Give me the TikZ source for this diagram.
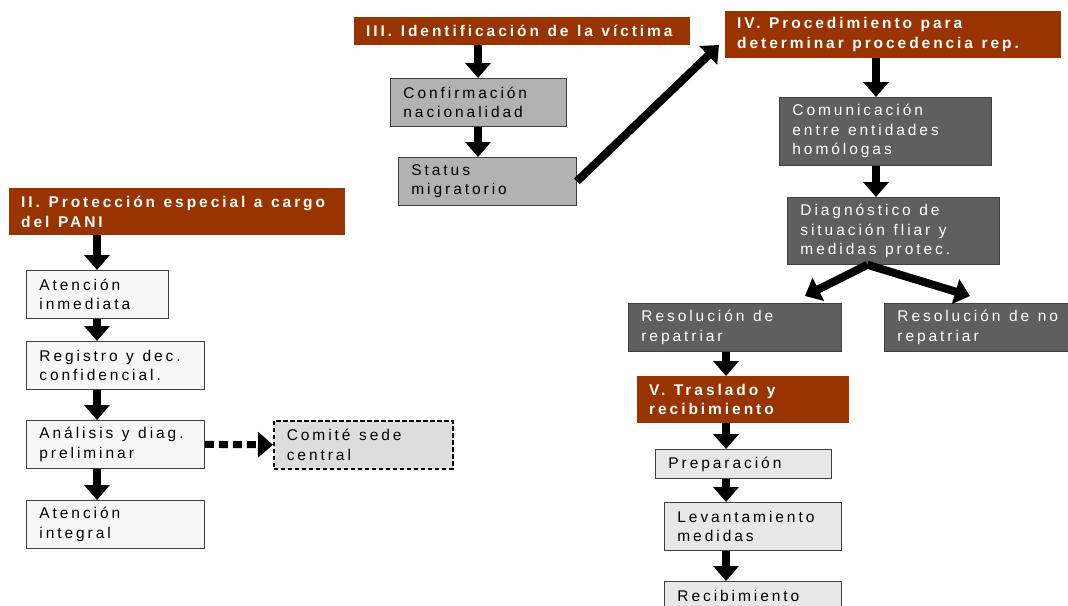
\documentclass[tikz,border=0pt]{standalone}
\usepackage{fontspec}
\setmainfont{Liberation Sans}[LetterSpace=19]
\usetikzlibrary{arrows.meta}

\definecolor{headred}{HTML}{993300}
\definecolor{boxline}{HTML}{404040}
\definecolor{paleF}{HTML}{F7F7F7}
\definecolor{paleD}{HTML}{DDDDDD}
\definecolor{paleE}{HTML}{E8E8E8}
\definecolor{midgray}{HTML}{B2B2B2}
\definecolor{darkgray}{HTML}{5F5F5F}
\newcommand\wordgap{\spaceskip=0.55em\relax}

\begin{document}
\begin{tikzpicture}[x=1pt, y=-1pt,
      font=\fontsize{15.5}{19.5}\selectfont,
      head/.style={rectangle, fill=headred, text=white, anchor=north west,
      font=\fontsize{15.5}{19.5}\selectfont\bfseries, align=flush left,
      inner xsep=12pt, inner ysep=0pt, execute at begin node=\wordgap},
      block/.style={rectangle, draw=boxline, line width=0.8pt, anchor=north west,
      align=flush left, inner xsep=13pt, inner ysep=0pt, minimum height=48pt,
      execute at begin node=\wordgap},
      line/.style={draw, line width=8pt, -{Triangle[length=15pt, width=25pt]}}
    ]
    \useasboundingbox (0,0) rectangle (1068,605);

    % II
    \node [head, text width=312pt, minimum height=47pt] (hII) at (9,188)
      {II. Protección especial a cargo\\del PANI};
    \node [block, fill=paleF, text width=116pt] (a1) at (26,270) {Atención\\inmediata};
    \node [block, fill=paleF, text width=152pt] (reg) at (26,341) {Registro y dec.\\confidencial.};
    \node [block, fill=paleF, text width=152pt] (ana) at (26,420) {Análisis y diag.\\preliminar};
    \node [block, fill=paleF, text width=152pt] (int) at (26,500) {Atención\\integral};
    \node [block, fill=paleD, draw=black, line width=1.6pt, dash pattern=on 4.5pt off 2.5pt,
      text width=153pt] (com) at (273,420) {Comité sede\\central};

    % III
    \node [head, text width=312pt, minimum height=28pt] (hIII) at (354,17)
      {III. Identificación de la víctima};
    \node [block, fill=midgray, text width=150pt] (conf) at (390,78) {Confirmación\\nacionalidad};
    \node [block, fill=midgray, text width=152pt] (st) at (398,157) {Status\\migratorio};

    % IV
    \node [head, text width=312pt, minimum height=47pt] (hIV) at (725,11)
      {IV. Procedimiento para\\determinar procedencia rep.};
    \node [block, fill=darkgray, text=white, text width=186pt, minimum height=68pt] (comu)
      at (779,97) {Comunicación\\entre entidades\\homólogas};
    \node [block, fill=darkgray, text=white, text width=186pt, minimum height=67pt] (dg)
      at (787,197) {Diagnóstico de\\situación fliar y\\medidas protec.};
    \node [block, fill=darkgray, text=white, text width=187pt] (r1) at (628,303)
      {Resolución de\\repatriar};
    \node [block, fill=darkgray, text=white, text width=187pt] (r2) at (884,303)
      {Resolución de no\\repatriar};

    % V
    \node [head, text width=188pt, minimum height=47pt] (hV) at (637,376)
      {V. Traslado y\\recibimiento};
    \node [block, fill=paleE, text width=150pt, minimum height=29pt] (prep) at (655,449)
      {Preparación};
    \node [block, fill=paleE, text width=151pt] (lev) at (664,502) {Levantamiento\\medidas};
    \node [block, fill=paleE, text width=151pt] (rec) at (664,581) {Recibimiento\\\mbox{}};

    \coordinate (colII) at (97,0);
    \coordinate (colIII) at (478,0);
    \coordinate (colIV) at (876,0);
    \coordinate (colV) at (726,0);
    \coordinate (tipIV) at (719,45);

    \path [line] (hII.south -| colII) -- (a1.north -| colII);
    \path [line] (a1.south -| colII) -- (reg.north -| colII);
    \path [line] (reg.south -| colII) -- (ana.north -| colII);
    \path [line] (ana.south -| colII) -- (int.north -| colII);
    \path [draw, line width=7pt, dash pattern=on 9pt off 5pt,
      -{Triangle[length=15pt, width=25pt]}] (ana.east) -- (com.west);

    \path [line] (hIII.south -| colIII) -- (conf.north -| colIII);
    \path [line] (conf.south -| colIII) -- (st.north -| colIII);
    \path [line] (st.east) -- (tipIV);

    \path [line] (hIV.south -| colIV) -- (comu.north -| colIV);
    \path [line] (comu.south -| colIV) -- (dg.north -| colIV);
    \path [line] ([xshift=-26pt]dg.south) -- ([xshift=70pt, yshift=7pt]r1.north);
    \path [line] ([xshift=-26pt]dg.south) -- ([xshift=-21pt, yshift=7pt]r2.north);

    \path [line] (r1.south -| colV) -- (hV.north -| colV);
    \path [line] (hV.south -| colV) -- (prep.north -| colV);
    \path [line] (prep.south -| colV) -- (lev.north -| colV);
    \path [line] (lev.south -| colV) -- (rec.north -| colV);
  \end{tikzpicture}
\end{document}
